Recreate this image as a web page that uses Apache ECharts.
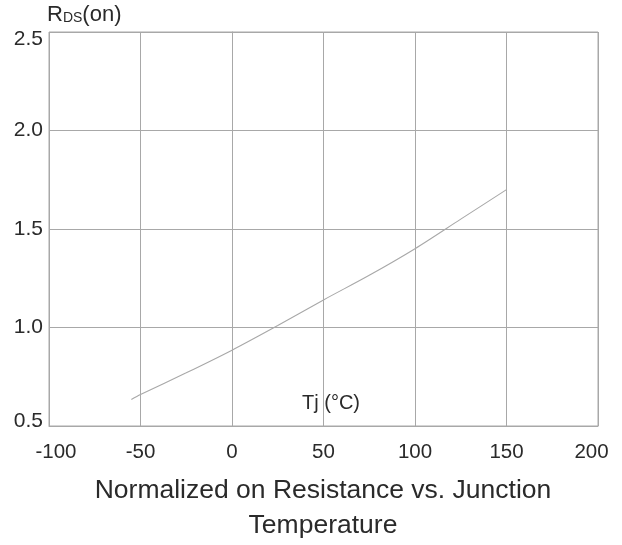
<!DOCTYPE html>
<html><head><meta charset="utf-8">
<script src="https://cdn.jsdelivr.net/npm/echarts@6/dist/echarts.min.js"></script>
<style>html,body{margin:0;padding:0;background:#fff}#c{width:622px;height:545px}</style>
</head><body><div id="c"></div>
<script>
const tempC = [-55, -50, -25, 0, 25, 50, 75, 100, 125, 150];
const rdsOn = [0.635, 0.66, 0.77, 0.885, 1.01, 1.14, 1.265, 1.40, 1.55, 1.70];
const xTicks = [-100, -50, 0, 50, 100, 150, 200];
const yTicks = [0.5, 1.0, 1.5, 2.0, 2.5];
const titleLines = ['Normalized on Resistance vs. Junction', 'Temperature'];
const xName = 'Tj (°C)';

const FONT = '"Liberation Sans", Arial, sans-serif';
const TXT = '#2a2a2a';
const gridColor = '#a8a8a8';
const chart = echarts.init(document.getElementById('c'), null, {renderer: 'canvas'});
chart.setOption({
  animation: false,
  backgroundColor: '#fff',
  grid: {left: 49, right: 24, top: 32, bottom: 119, containLabel: false,
         show: true, borderColor: gridColor, borderWidth: 1},
  xAxis: {
    type: 'value', min: xTicks[0], max: xTicks[xTicks.length - 1], interval: 50,
    axisLine: {show: true, lineStyle: {color: gridColor, width: 1}},
    axisTick: {show: false},
    splitLine: {show: true, lineStyle: {color: gridColor, width: 1}},
    axisLabel: {
      color: TXT, fontFamily: FONT, fontSize: 20.5, margin: 16,
      formatter: v => v === xTicks[0] ? '{l|' + v + '}' : (v === xTicks[xTicks.length - 1] ? '{r|' + v + '}' : String(v)),
      rich: {
        l: {color: TXT, fontFamily: FONT, fontSize: 20.5, padding: [0, 0, 0, 14]},
        r: {color: TXT, fontFamily: FONT, fontSize: 20.5, padding: [0, 13, 0, 0]}
      }
    }
  },
  yAxis: {
    type: 'value', min: yTicks[0], max: yTicks[yTicks.length - 1], interval: 0.5,
    axisLine: {show: true, lineStyle: {color: gridColor, width: 1}},
    axisTick: {show: false},
    splitLine: {show: true, lineStyle: {color: gridColor, width: 1}},
    axisLabel: {
      color: TXT, fontFamily: FONT, fontSize: 21, margin: 6,
      formatter: v => {
        const s = v.toFixed(1);
        if (v === yTicks[yTicks.length - 1]) return '{t|' + s + '}';
        if (v === yTicks[0]) return '{b|' + s + '}';
        return s;
      },
      rich: {
        t: {color: TXT, fontFamily: FONT, fontSize: 21, padding: [14, 0, 0, 0]},
        b: {color: TXT, fontFamily: FONT, fontSize: 21, padding: [0, 0, 10, 0]}
      }
    }
  },
  series: [{
    type: 'line', data: tempC.map((t, i) => [t, rdsOn[i]]),
    showSymbol: false, smooth: 0.3,
    lineStyle: {color: '#a8a8a8', width: 1.1}
  }],
  graphic: [
    {type: 'text', left: 47, top: 4, style: {
      text: '{r|R}{s|DS}{n|(on)}', fill: TXT,
      rich: {
        r: {fontFamily: FONT, fontSize: 22, fill: TXT, verticalAlign: 'bottom'},
        s: {fontFamily: FONT, fontSize: 14, fill: TXT, verticalAlign: 'bottom', padding: [0, 0, 1, 0]},
        n: {fontFamily: FONT, fontSize: 22, fill: TXT, verticalAlign: 'bottom'}
      }
    }},
    {type: 'text', left: 302, top: 393, style: {text: xName, fontFamily: FONT, fontSize: 20, fill: TXT}},
    {type: 'text', x: 323, y: 491, style: {
      text: titleLines[0], fontFamily: FONT, fontSize: 26.5, fill: TXT,
      align: 'center', verticalAlign: 'middle'
    }},
    {type: 'text', x: 323, y: 526, style: {
      text: titleLines[1], fontFamily: FONT, fontSize: 26.5, fill: TXT,
      align: 'center', verticalAlign: 'middle'
    }}
  ]
});
</script></body></html>
